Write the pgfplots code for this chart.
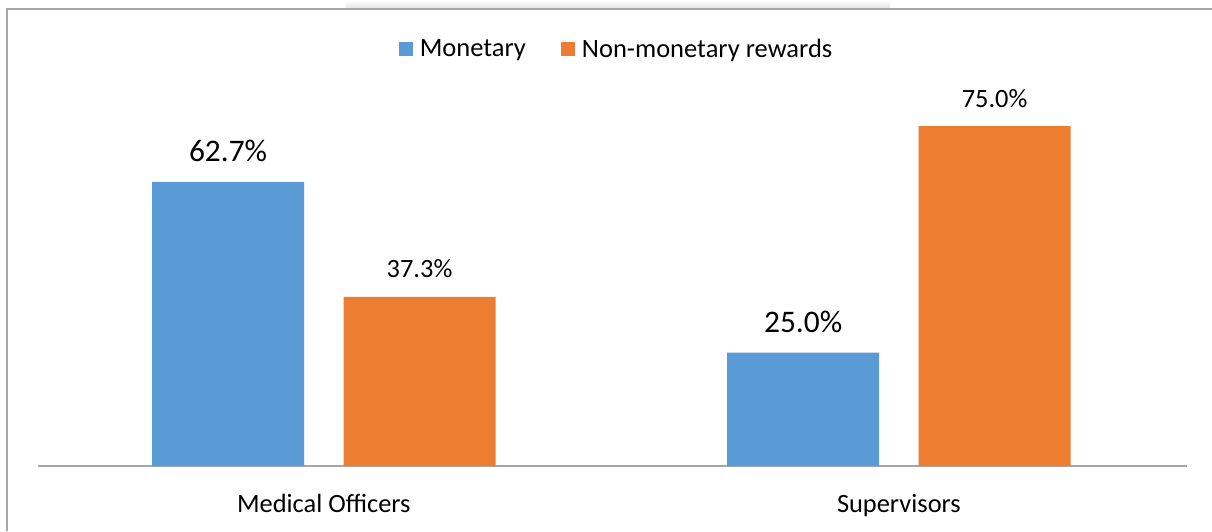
\documentclass[border=0pt]{standalone}
\usepackage{fontspec}
\setmainfont{Carlito}
\usepackage{pgfplots}
\pgfplotsset{compat=1.18}
\definecolor{cblue}{HTML}{5B9BD5}
\definecolor{corange}{HTML}{ED7D31}
\definecolor{framec}{HTML}{A6A6A6}
\begin{document}
\begin{tikzpicture}
\useasboundingbox (0,0) rectangle (1212pt,531pt);
\shade[top color=white, bottom color=gray!22] (346pt,522pt) rectangle (890pt,531pt);
\draw[framec, line width=1.5pt] (7pt,0pt) -- (7pt,522pt) -- (1212pt,522pt);
\begin{axis}[
  at={(38pt,65pt)}, anchor=south west, scale only axis,
  width=1149pt, height=362.5pt,
  xmin=-0.497, xmax=1.501, ymin=0, ymax=80,
  axis x line=bottom, axis y line=none,
  x axis line style={-, draw=framec, line width=1.5pt},
  xtick={0,1}, xticklabels={Medical Officers, Supervisors},
  major tick length=0pt,
  xticklabel style={anchor=base, yshift=-46pt, font=\fontsize{26.4}{31}\selectfont},
  ytick=\empty,
  clip=false,
  /pgf/number format/assume math mode=true,
  legend style={at={(0.5035,1.1507)}, anchor=center, draw=none, fill=none,
    legend columns=-1, font=\fontsize{26.5}{31}\selectfont,
    /tikz/every odd column/.append style={column sep=5pt},
    /tikz/every even column/.append style={column sep=33pt}},
]
\addplot[ybar, bar width=152pt, bar shift=-95.75pt, fill=cblue, draw=none,
  legend image code/.code={\fill[cblue] (0pt,-7pt) rectangle (14pt,7pt);},
  nodes near coords={\pgfmathprintnumber[fixed,fixed zerofill,precision=1]{\pgfplotspointmeta}\%},
  every node near coord/.append style={anchor=base, xshift=-95.75pt, yshift=20.5pt, text=black, font=\fontsize{31.4}{37}\selectfont}]
  coordinates {(0,62.7) (1,25.0)};
\addlegendentry{Monetary}
\addplot[ybar, bar width=152pt, bar shift=95.75pt, fill=corange, draw=none,
  legend image code/.code={\fill[corange] (0pt,-7pt) rectangle (14pt,7pt);},
  nodes near coords={\pgfmathprintnumber[fixed,fixed zerofill,precision=1]{\pgfplotspointmeta}\%},
  every node near coord/.append style={anchor=base, xshift=95.75pt, yshift=19pt, text=black, font=\fontsize{26.4}{31}\selectfont}]
  coordinates {(0,37.3) (1,75.0)};
\addlegendentry{Non-monetary rewards}
\end{axis}
\end{tikzpicture}
\end{document}
